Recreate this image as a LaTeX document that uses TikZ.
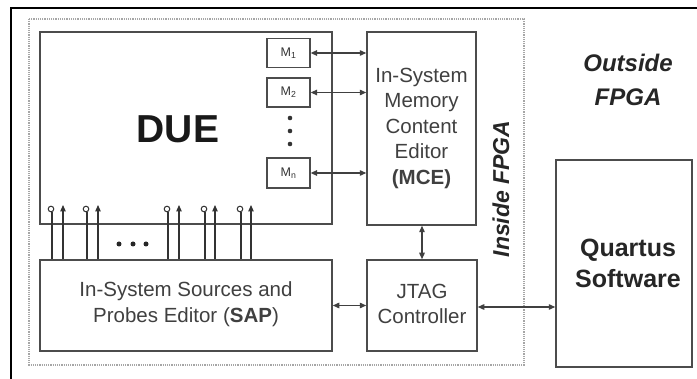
\documentclass[tikz,border=0pt]{standalone}
\usepackage{fontspec}
\setmainfont{Liberation Sans}
\usetikzlibrary{arrows.meta,calc}
\begin{document}
\begin{tikzpicture}[x=1pt,y=-1pt,
  box/.style={draw=black!70,line width=1.5pt,inner sep=0pt,fill=white},
  mbox/.style={draw=black!70,line width=1.2pt,inner sep=0pt,minimum width=43pt,minimum height=29pt,font=\fontsize{12.5}{13}\selectfont,text=black!80},
  txt/.style={text=black!75,align=center,font=\fontsize{20.5}{25.5}\selectfont},
  link/.style={draw=black!75,line width=1.3pt,{Triangle[length=6.5pt,width=5.5pt]}-{Triangle[length=6.5pt,width=5.5pt]}},
  probe/.style={draw=black!80,line width=1.2pt}]
\useasboundingbox (0,0) rectangle (697,379);
\fill[white] (0,0) rectangle (697,379);
% outer black frame (clipped by image)
\draw[line width=2.5pt,black] (11,379) -- (11,8) -- (697,8);
% FPGA dotted region
\draw[black!35,line width=1.2pt,densely dotted] (29,19) rectangle (524,365);
% main boxes
\node[box,minimum width=292pt,minimum height=192pt] (due) at (186,128) {};
\node[font=\fontsize{39}{40}\selectfont\bfseries,text=black!90] (duet) at (178,129) {DUE};
\node[mbox] (m1) at (288.5,53) {M\textsubscript{1}};
\node[mbox] (m2) at (288.5,92.5) {M\textsubscript{2}};
\node[mbox,minimum height=30pt] (mn) at (288.5,173) {M\textsubscript{n}};
\foreach \y [count=\i] in {118,131,144} \fill[black!80] (290,\y) circle (2.3pt) coordinate (vd\i);
\node[box,minimum width=109pt,minimum height=193pt] (mce) at (421.5,128.5) {};
\node[txt] (mcet) at (421.5,128) {In-System\\Memory\\Content\\Editor\\\textbf{(MCE)}};
\node[box,minimum width=292pt,minimum height=91pt] (sap) at (186,305.5) {};
\node[txt] (sapt) at (186,304) {In-System Sources and\\Probes Editor (\textbf{SAP})};
\node[box,minimum width=110pt,minimum height=91pt] (jtag) at (422,305.5) {};
\node[txt] (jtagt) at (422,304) {JTAG\\Controller};
\node[box,minimum width=136pt,minimum height=207pt] (qs) at (624,263.5) {};
\node[txt,font=\fontsize{25}{31}\selectfont\bfseries,text=black!85] (qst) at (628,263) {Quartus\\Software};
\node[txt,font=\fontsize{24}{34}\selectfont\bfseries\itshape,text=black!85] (out) at (628,80) {Outside\\FPGA};
\node[font=\fontsize{23}{24}\selectfont\bfseries\itshape,text=black!85,rotate=90] (ins) at (501,189) {Inside FPGA};
% memory links
\draw[link] (m1.east) -- (m1.east -| mce.west);
\draw[link] (m2.east) -- (m2.east -| mce.west);
\draw[link] (mn.east) -- (mn.east -| mce.west);
% other links
\draw[link] (mce.south) ++(0.5,0) coordinate (mces) -- (mces |- jtag.north);
\draw[link] (sap.east) -- (sap.east -| jtag.west);
\draw[link] ([yshift=-1.5pt]jtag.east) -- ([yshift=-1.5pt]jtag.east -| qs.west);
% probes
\foreach \xa/\xb [count=\i] in {52/63,87/98,168/179,205/215,241/251}{
  \coordinate (po\i) at (\xa,212);
  \coordinate (pi\i) at (\xb,205);
  \draw[probe] (po\i) -- (po\i |- sap.north);
  \draw[black!80,line width=1pt,fill=white] (\xa-1,209) circle (2.8pt);
  \draw[probe,-{Triangle[length=6.5pt,width=5.5pt]}] (pi\i |- sap.north) -- (pi\i);
}
\foreach \x [count=\i] in {119,133,146} \fill[black!85] (\x,244) circle (2.5pt) coordinate (hd\i);
\end{tikzpicture}
\end{document}
